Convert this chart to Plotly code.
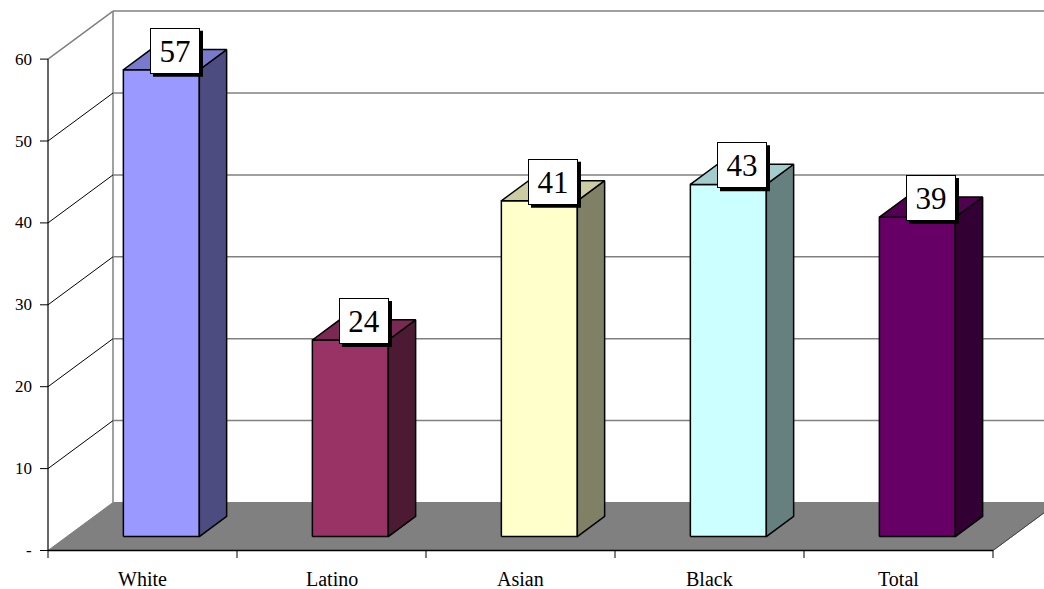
import plotly.graph_objects as go

# Data
categories = ["White", "Latino", "Asian", "Black", "Total"]
values = [57, 24, 41, 43, 39]
front_colors = ["#9999FF", "#993366", "#FFFFCC", "#CCFFFF", "#660066"]
y_ticks = [0, 10, 20, 30, 40, 50, 60]
y_tick_text = ["-", "10", "20", "30", "40", "50", "60"]

# Pseudo-3D geometry (category units / value units)
PX_PER_CAT = 189.0
PX_PER_UNIT = 8.19
ORIGIN_X = 48.0
ORIGIN_Y = 550.5
W, H = 1044, 589
DEPTH_DX = 65.0 / PX_PER_CAT      # depth shift in category units
DEPTH_DY = 48.0 / PX_PER_UNIT     # depth shift in value units
BAR_HALF = 0.201
BAR_D0, BAR_D1 = 0.29, 0.71
VMAX = max(y_ticks)
NCAT = len(categories)

# Value-label box (pixels)
BOX_W, BOX_H, BOX_LIFT, SHADOW = 50, 46, 9, 3


def proj(c, v, d):
    return c + d * DEPTH_DX, v + d * DEPTH_DY


def shade(hex_color, k):
    h = hex_color.lstrip("#")
    r, g, b = (int(h[i:i + 2], 16) for i in (0, 2, 4))
    return "#%02X%02X%02X" % (round(r * k), round(g * k), round(b * k))


fig = go.Figure()


def poly(pts, fill, line_color="black", width=1.5):
    xs = [p[0] for p in pts] + [pts[0][0]]
    ys = [p[1] for p in pts] + [pts[0][1]]
    fig.add_trace(go.Scatter(x=xs, y=ys, mode="lines", fill="toself",
                             fillcolor=fill,
                             line=dict(color=line_color, width=width),
                             hoverinfo="skip"))


def seg(p, q, color, width=1.0):
    fig.add_trace(go.Scatter(x=[p[0], q[0]], y=[p[1], q[1]], mode="lines",
                             line=dict(color=color, width=width),
                             hoverinfo="skip"))


# Floor
poly([proj(0, 0, 0), proj(0, 0, 1), proj(NCAT, 0, 1), proj(NCAT, 0, 0)],
     "#808080", line_color="#808080", width=1)
seg(proj(NCAT, 0, 0), proj(NCAT, 0, 1), "#404040", 1)

# Back wall gridlines and border
for t in y_ticks[1:]:
    seg(proj(0, t, 1), proj(NCAT, t, 1), "#808080", 1.5)
seg(proj(0, 0, 1), proj(0, VMAX, 1), "#808080", 1.5)

# Side wall diagonals
for t in y_ticks[1:]:
    seg(proj(0, t, 0), proj(0, t, 1), "#808080" if t == VMAX else "black",
        1.5 if t == VMAX else 1)

# Front axes
seg(proj(0, 0, 0), proj(0, VMAX, 0), "black", 1.2)
seg(proj(0, 0, 0), proj(NCAT, 0, 0), "black", 1.5)
tick_len_c = 8.0 / PX_PER_CAT
tick_len_v = 7.5 / PX_PER_UNIT
for t in y_ticks:
    seg((-tick_len_c, t), (0, t), "black", 1)
for i in range(NCAT + 1):
    seg((i, 0), (i, -tick_len_v), "black", 1)

# Bars
for i, (v, col) in enumerate(zip(values, front_colors)):
    cx = i + 0.5
    l, r = cx - BAR_HALF, cx + BAR_HALF
    front = [proj(l, 0, BAR_D0), proj(r, 0, BAR_D0), proj(r, v, BAR_D0), proj(l, v, BAR_D0)]
    side = [proj(r, 0, BAR_D0), proj(r, 0, BAR_D1), proj(r, v, BAR_D1), proj(r, v, BAR_D0)]
    top = [proj(l, v, BAR_D0), proj(r, v, BAR_D0), proj(r, v, BAR_D1), proj(l, v, BAR_D1)]
    poly(front, col)
    poly(side, shade(col, 0.5))
    poly(top, shade(col, 0.8))

shapes = []
annotations = []
# Value labels: white boxed text with a black drop shadow
for i, v in enumerate(values):
    x, y = proj(i + 0.5, v, 0.5)
    shapes.append(dict(type="rect", xref="x", yref="y", xsizemode="pixel",
                       ysizemode="pixel", xanchor=x, yanchor=y,
                       x0=-BOX_W / 2 + SHADOW, x1=BOX_W / 2 + SHADOW,
                       y0=BOX_LIFT - BOX_H / 2 - SHADOW, y1=BOX_LIFT + BOX_H / 2 - SHADOW,
                       fillcolor="black", line=dict(width=0), layer="above"))
    annotations.append(dict(x=x, y=y, xref="x", yref="y", text=str(v), showarrow=False,
                            font=dict(family="Liberation Serif", size=31, color="black"),
                            width=BOX_W - 2, height=BOX_H - 2, borderpad=0, borderwidth=1,
                            xanchor="center", yanchor="middle", yshift=BOX_LIFT,
                            bgcolor="white", bordercolor="black"))

# Axis labels
for t, txt in zip(y_ticks, y_tick_text):
    annotations.append(dict(x=0, y=t, xref="x", yref="y", text=txt, showarrow=False,
                            xanchor="right", yanchor="middle", xshift=-14,
                            font=dict(family="Liberation Serif", size=17, color="black")))
for i, name in enumerate(categories):
    annotations.append(dict(x=i + 0.5, y=0, xref="x", yref="y", text=name, showarrow=False,
                            xanchor="center", yanchor="middle", yshift=-28,
                            font=dict(family="Liberation Serif", size=20, color="black")))

xmin = -ORIGIN_X / PX_PER_CAT
xmax = (W - ORIGIN_X) / PX_PER_CAT
ymax = ORIGIN_Y / PX_PER_UNIT
ymin = (ORIGIN_Y - H) / PX_PER_UNIT

fig.update_layout(
    width=W, height=H, margin=dict(l=0, r=0, t=0, b=0),
    paper_bgcolor="white", plot_bgcolor="white", showlegend=False,
    hovermode=False, annotations=annotations, shapes=shapes,
    xaxis=dict(range=[xmin, xmax], visible=False, fixedrange=True),
    yaxis=dict(range=[ymin, ymax], visible=False, fixedrange=True),
)

fig.write_html("out.html")
